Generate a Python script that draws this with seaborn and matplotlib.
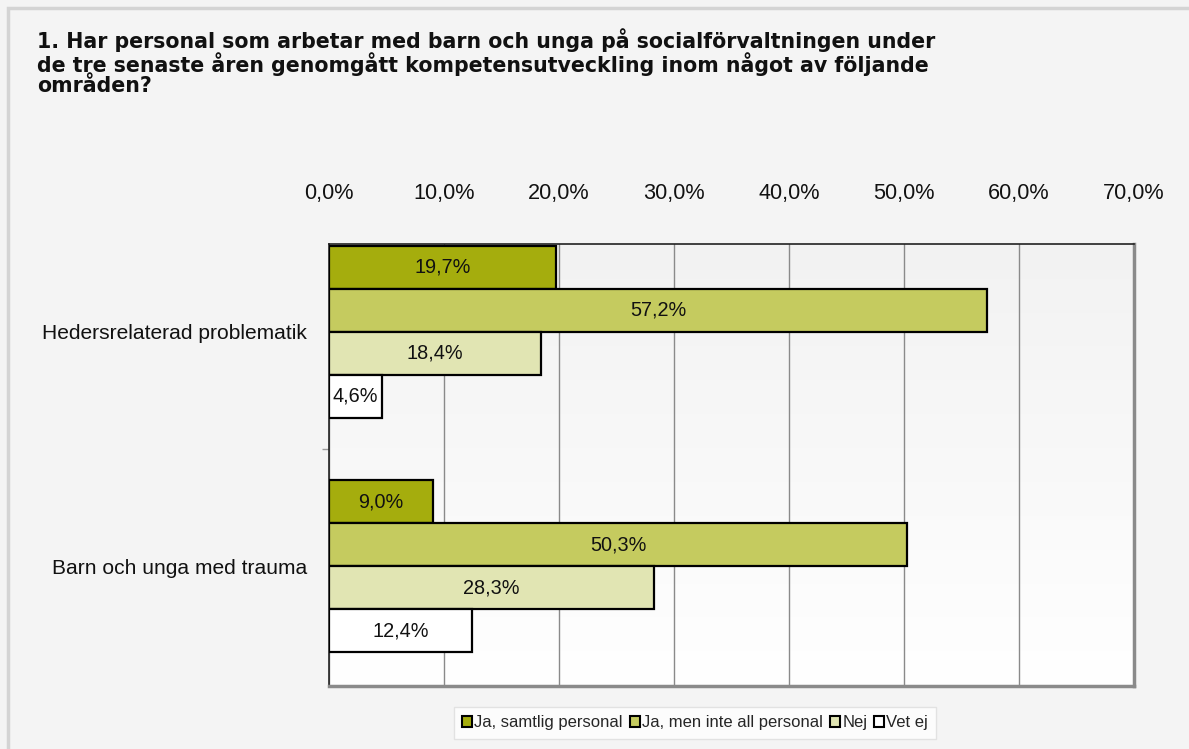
import matplotlib
matplotlib.use("Agg")
import matplotlib.pyplot as plt
from matplotlib.patches import Rectangle
import seaborn as sns
import numpy as np
import pandas as pd

# data
categories = ["Hedersrelaterad problematik", "Barn och unga med trauma"]
series = ["Ja, samtlig personal", "Ja, men inte all personal", "Nej", "Vet ej"]
ja_samtlig = [19.7, 9.0]
ja_inte_all = [57.2, 50.3]
nej = [18.4, 28.3]
vet_ej = [4.6, 12.4]
x_ticks = [0, 10, 20, 30, 40, 50, 60, 70]
title = ("1. Har personal som arbetar med barn och unga på socialförvaltningen under\n"
         "de tre senaste åren genomgått kompetensutveckling inom något av följande\n"
         "områden?")

colors = ["#a5ad0d", "#c5cb5f", "#e1e5b3", "#ffffff"]

rows = []
for s, vals in zip(series, [ja_samtlig, ja_inte_all, nej, vet_ej]):
    for c, v in zip(categories, vals):
        rows.append({"kategori": c, "serie": s, "andel": v})
df = pd.DataFrame(rows)

sns.set_theme(style="white")
plt.rcParams["font.family"] = ["Liberation Sans", "DejaVu Sans"]

fig = plt.figure(figsize=(11.89, 7.49), dpi=100)
fig.patch.set_facecolor("#f4f4f4")
# outer frame
fig.patches.append(Rectangle((8 / 1189, -0.1), 1.2, 1 - 8 / 749 + 0.1,
                             transform=fig.transFigure, fill=False,
                             edgecolor="#d4d4d4", linewidth=2.5))

ax = fig.add_axes([329 / 1189, 63 / 749, 805 / 1189, 442 / 749])

# background gradient of the plot area (grey at top, white at bottom)
grad = np.linspace(0, 1, 256).reshape(-1, 1)
ax.imshow(grad, extent=[0, 1, 0, 1], transform=ax.transAxes, aspect="auto",
          cmap=matplotlib.colors.LinearSegmentedColormap.from_list("g", ["#f2f2f2", "#ffffff"]),
          zorder=0)

sns.barplot(data=df, x="andel", y="kategori", hue="serie", orient="h",
            palette=colors, saturation=1, edgecolor="black", linewidth=1.6,
            width=0.733, gap=0, ax=ax, zorder=3, legend=True)

for cont in ax.containers:
    labels = [f"{r.get_width():.1f}".replace(".", ",") + "%" for r in cont]
    ax.bar_label(cont, labels=labels, label_type="center", fontsize=14.3,
                 color="#111111")

ax.set_xlim(0, 70)
ax.set_ylim(1.51, -0.375)
ax.set_xticks(x_ticks)
ax.set_xticklabels([f"{t:.1f}".replace(".", ",") + "%" for t in x_ticks], fontsize=15.6)
ax.xaxis.tick_top()
ax.tick_params(axis="x", length=0, pad=29, labelcolor="#111111")
ax.tick_params(axis="y", which="major", length=0, pad=16, labelsize=15.1, labelcolor="#111111")
ax.set_yticks([0.5], minor=True)
ax.tick_params(axis="y", which="minor", left=True, length=5, width=1, color="#999999")
ax.set_xlabel("")
ax.set_ylabel("")
ax.grid(axis="x", color="#8a8a8a", linewidth=1, zorder=1)
ax.set_axisbelow(True)

ax.spines["top"].set_color("#222222")
ax.spines["left"].set_color("#222222")
ax.spines["right"].set_color("#8a8a8a")
ax.spines["bottom"].set_color("#8a8a8a")
ax.spines["top"].set_linewidth(1.2)
ax.spines["left"].set_linewidth(1.2)
ax.spines["right"].set_linewidth(2.5)
ax.spines["bottom"].set_linewidth(2.5)

fig.text(37 / 1189, 1 - 28 / 749, title, ha="left", va="top", fontsize=14.8,
         fontweight="bold", family=["DejaVu Sans"], color="#111111", linespacing=1.0)

handles, lbls = ax.get_legend_handles_labels()
ax.get_legend().remove()
leg = fig.legend(handles, lbls, loc="center", bbox_to_anchor=(695 / 1189, 1 - 723 / 749),
                 ncol=4, frameon=True, fancybox=False,
                 handlelength=0.6, handleheight=0.6, handletextpad=0.15,
                 columnspacing=0.4, borderpad=0.5,
                 prop={"family": ["Liberation Sans", "DejaVu Sans"], "size": 12})
leg.get_frame().set_facecolor("white")
leg.get_frame().set_edgecolor("#dddddd")
for h in leg.legend_handles:
    h.set_edgecolor("black")
    h.set_linewidth(1.5)

fig.savefig("out.png", dpi=100, facecolor=fig.get_facecolor())
